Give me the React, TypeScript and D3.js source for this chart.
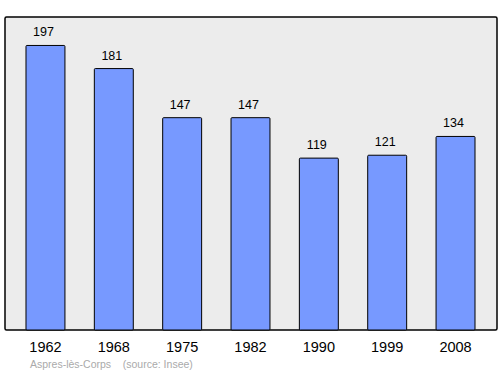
import React from "react";
import * as d3 from "d3";

const years = ["1962", "1968", "1975", "1982", "1990", "1999", "2008"];
const population = [197, 181, 147, 147, 119, 121, 134];
const sourceText = "Aspres-lès-Corps    (source: Insee)";

export default function App() {
  const W = 500, H = 374;
  const frame = { left: 5, top: 17, right: 497, bottom: 330 };
  const maxV = d3.max(population) as number;
  const y = d3.scaleLinear().domain([0, maxV * 1.1]).range([frame.bottom, frame.top]);
  const x = d3
    .scaleBand<string>()
    .domain(years)
    .range([11.3, 489.7])
    .paddingInner(0.43)
    .paddingOuter(0.215);
  const font = "'Liberation Sans', Arial, sans-serif";
  return (
    <svg
      width={W}
      height={H}
      style={{ position: "absolute", left: 0, top: 0, display: "block" }}
      fontFamily={font}
    >
      <rect x={0} y={0} width={W} height={H} fill="#ffffff" />
      <rect
        x={frame.left}
        y={frame.top}
        width={frame.right - frame.left}
        height={frame.bottom - frame.top}
        fill="#ececec"
        stroke="#000"
        strokeWidth={1.5}
        rx={1.5}
      />
      {years.map((yr, i) => {
        const v = population[i];
        const bx = x(yr) as number;
        const bw = x.bandwidth();
        return (
          <g key={yr}>
            <rect
              x={bx}
              y={y(v)}
              width={bw}
              height={frame.bottom - y(v)}
              fill="#7799ff"
              stroke="#000"
              strokeWidth={1}
              rx={1}
            />
            <text
              x={bx + bw / 2 - 2}
              y={y(v) - 9}
              textAnchor="middle"
              fontSize={12.5}
              fill="#000"
            >
              {v}
            </text>
            <text
              x={bx + bw / 2}
              y={352}
              textAnchor="middle"
              fontSize={14.5}
              fill="#000"
            >
              {yr}
            </text>
          </g>
        );
      })}
      <text x={30} y={368} fontSize={10.5} fill="#aaaaaa" style={{ whiteSpace: "pre" }}>
        {sourceText}
      </text>
    </svg>
  );
}
